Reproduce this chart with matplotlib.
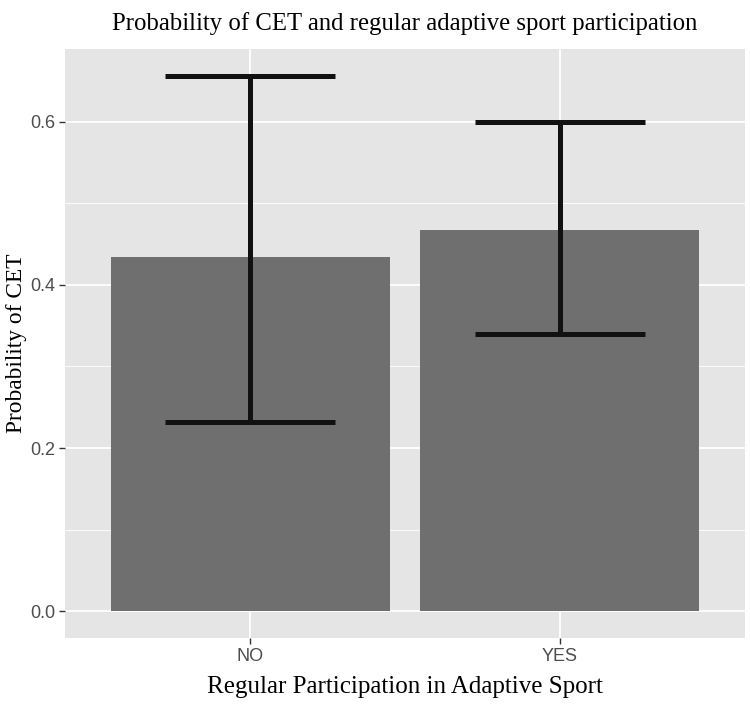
import numpy as np
import matplotlib
matplotlib.use('Agg')
import matplotlib.pyplot as plt

groups = ['NO', 'YES']
prob = [0.434, 0.4675]
lower = [0.232, 0.340]
upper = [0.656, 0.599]

fig = plt.figure(figsize=(7.5, 7.09), dpi=100)
ax = fig.add_axes([65/750, 71/709, 680/750, 589/709])
ax.set_facecolor('#e5e5e5')

x = np.arange(1, len(groups) + 1)
ax.bar(x, prob, width=0.9, color='#6f6f6f', zorder=2)
p = np.array(prob)
yerr = [p - np.array(lower), np.array(upper) - p]
ax.errorbar(x, prob, yerr=yerr, fmt='none', ecolor='#111111', elinewidth=3.6,
            capsize=61, capthick=3.6, zorder=3)

ax.set_xlim(0.4, 2.6)
ax.set_ylim(-0.0328, 0.689)
ax.set_xticks(x)
ax.set_xticklabels(groups)
ax.set_yticks([0.0, 0.2, 0.4, 0.6])
ax.set_yticklabels(['0.0', '0.2', '0.4', '0.6'])
ax.set_yticks([0.1, 0.3, 0.5], minor=True)
ax.set_xticks([], minor=True)
ax.grid(which='major', color='white', linewidth=1.3, zorder=0)
ax.grid(which='minor', axis='y', color='white', linewidth=0.6, zorder=0)
ax.set_axisbelow(True)
for s in ax.spines.values():
    s.set_visible(False)
ax.tick_params(which='major', length=4, width=1, color='#333333', labelcolor='#4d4d4d',
               labelsize=13, pad=3)
ax.tick_params(which='minor', length=0)
for lab in ax.get_xticklabels() + ax.get_yticklabels():
    lab.set_family('Liberation Sans')

serif = 'Liberation Serif'
ax.set_title('Probability of CET and regular adaptive sport participation',
             family=serif, fontsize=17.8, pad=14)
ax.set_xlabel('Regular Participation in Adaptive Sport', family=serif, fontsize=18, labelpad=8)
ax.set_ylabel('Probability of CET', family=serif, fontsize=16.8, labelpad=2)

fig.savefig('out.png', dpi=100)
